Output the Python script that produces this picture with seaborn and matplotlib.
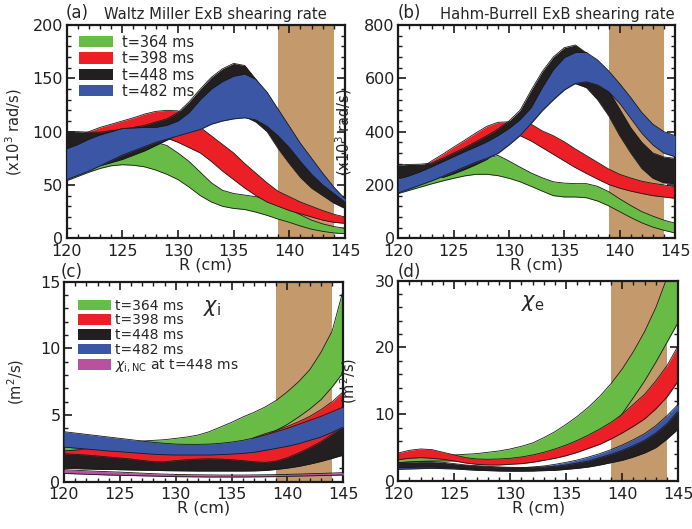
import numpy as np
import pandas as pd
import matplotlib
matplotlib.use("Agg")
import matplotlib.pyplot as plt
import seaborn as sns
from matplotlib.patches import Patch
from matplotlib.ticker import MultipleLocator

# ---------------- data ----------------
R = list(range(120, 146))
labels = ["t=364 ms", "t=398 ms", "t=448 ms", "t=482 ms"]
nc_label = r"$\chi_{\rm i,NC}$ at t=448 ms"

# (a) Waltz-Miller ExB shearing rate (x10^3 rad/s)
a_green_hi = [56, 61, 65, 70, 73, 76, 80, 85, 90, 87, 80, 72, 62, 52, 45, 42, 40.5, 39, 36, 32, 27, 22, 17, 13.5, 11, 9.5]
a_green_lo = [54, 58, 62, 65.5, 68, 69, 68.5, 67, 64, 60, 55, 48, 40, 34, 30, 28, 27, 24.5, 21.5, 18, 15, 11.5, 8.5, 6.5, 5, 4.3]
a_red_hi = [94, 97, 100, 104, 107, 110, 113, 116.5, 119, 120, 119.5, 113, 104, 96, 88, 80, 70, 61, 52, 44, 39, 34, 30, 26, 22.5, 20]
a_red_lo = [80, 82, 85, 88, 90, 92, 93.5, 94.5, 95, 94, 90, 85, 80, 72, 63, 55, 47, 40, 34, 30, 26, 23, 20, 17, 15, 14]
a_black_hi = [100, 100, 99.5, 99.5, 101, 102, 104, 106, 109, 112, 118, 128, 140, 151, 159, 164, 162, 149, 134, 117, 101, 86, 72, 59, 47, 35]
a_black_lo = [68, 66, 66, 68, 71, 74, 78, 82, 87, 92, 97, 101, 105, 110, 113, 115, 114, 109, 100, 84, 70, 57, 47, 40, 33, 28]
a_blue_hi = [84, 88, 93, 97, 100, 103, 103.5, 104, 104, 106, 110, 118, 130, 140, 147, 152, 154, 149, 137, 121, 105, 89, 75, 61, 48, 37]
a_blue_lo = [55, 59, 63, 68, 73, 78, 82, 86, 90, 93, 96, 99, 102, 107, 110, 112, 113, 111, 105, 96, 85, 72, 60, 50, 42, 34]

# (b) Hahm-Burrell ExB shearing rate (x10^3 rad/s)
b_green_hi = [175, 190, 205, 220, 235, 250, 265, 282, 300, 311, 290, 267, 245, 227, 212, 207, 205, 205, 195, 175, 148, 123, 100, 83, 68, 57]
b_green_lo = [168, 180, 192, 204, 215, 225, 234, 240, 240, 235, 225, 212, 195, 177, 160, 155, 155, 152, 140, 122, 100, 78, 58, 42, 30, 20]
b_red_hi = [205, 228, 262, 290, 315, 342, 368, 395, 420, 435, 437, 432, 428, 403, 385, 362, 335, 310, 285, 260, 240, 226, 214, 206, 200, 193]
b_red_lo = [190, 200, 215, 230, 250, 270, 290, 310, 330, 350, 370, 385, 365, 340, 315, 290, 265, 243, 222, 202, 188, 177, 168, 160, 155, 150]
b_black_hi = [275, 277, 278, 282, 300, 320, 340, 362, 385, 410, 440, 480, 555, 625, 680, 715, 725, 695, 640, 555, 485, 415, 360, 320, 305, 300]
b_black_lo = [225, 228, 232, 235, 228, 242, 258, 276, 296, 325, 360, 400, 450, 500, 540, 570, 580, 565, 520, 460, 385, 320, 262, 225, 208, 205]
b_blue_hi = [222, 235, 250, 268, 287, 306, 325, 343, 362, 385, 412, 445, 490, 565, 632, 678, 697, 697, 669, 628, 580, 528, 472, 428, 400, 385]
b_blue_lo = [170, 185, 200, 215, 232, 250, 268, 285, 300, 318, 350, 385, 430, 478, 519, 556, 581, 587, 575, 550, 506, 450, 394, 350, 319, 306]

# (c) chi_i (m^2/s)
c_green_hi = [2.6, 2.6, 2.65, 2.7, 2.8, 2.9, 3.0, 3.05, 3.1, 3.15, 3.25, 3.35, 3.5, 3.75, 4.1, 4.45, 4.85, 5.2, 5.6, 6.1, 6.75, 7.5, 8.4, 9.7, 11.3, 14.4]
c_green_lo = [2.3, 2.32, 2.35, 2.4, 2.45, 2.5, 2.5, 2.5, 2.45, 2.4, 2.4, 2.4, 2.4, 2.45, 2.5, 2.6, 2.8, 3.1, 3.45, 3.85, 4.3, 4.85, 5.45, 6.15, 7.1, 8.2]
c_red_hi = [2.3, 2.38, 2.45, 2.42, 2.35, 2.3, 2.25, 2.2, 2.15, 2.1, 2.1, 2.1, 2.1, 2.1, 2.15, 2.3, 2.6, 3.3, 3.6, 3.85, 4.15, 4.5, 4.9, 5.4, 6.0, 6.75]
c_red_lo = [1.0, 0.98, 0.95, 0.93, 0.92, 0.91, 0.95, 1.0, 1.05, 1.05, 1.05, 1.05, 1.05, 1.05, 1.05, 1.05, 1.05, 1.1, 1.15, 1.3, 1.5, 1.8, 2.2, 2.7, 3.2, 3.8]
c_black_hi = [2.1, 2.05, 2.0, 1.93, 1.85, 1.78, 1.7, 1.6, 1.5, 1.5, 1.58, 1.65, 1.7, 1.72, 1.7, 1.65, 1.58, 1.5, 1.45, 1.55, 1.8, 2.15, 2.55, 3.0, 3.55, 4.2]
c_black_lo = [1.1, 1.05, 1.0, 0.96, 0.93, 0.9, 0.88, 0.86, 0.85, 0.83, 0.82, 0.81, 0.8, 0.8, 0.8, 0.8, 0.8, 0.81, 0.84, 0.92, 1.02, 1.15, 1.32, 1.52, 1.75, 2.0]
c_blue_hi = [3.75, 3.65, 3.55, 3.45, 3.35, 3.25, 3.15, 3.05, 2.95, 2.88, 2.82, 2.8, 2.8, 2.82, 2.88, 2.97, 3.1, 3.28, 3.5, 3.75, 4.0, 4.3, 4.6, 4.9, 5.25, 5.6]
c_blue_lo = [2.6, 2.52, 2.45, 2.38, 2.3, 2.25, 2.18, 2.12, 2.06, 2.02, 2.0, 2.0, 2.0, 2.0, 2.03, 2.07, 2.12, 2.2, 2.35, 2.5, 2.65, 2.85, 3.1, 3.35, 3.7, 4.1]
c_nc_hi = [0.9, 0.86, 0.82, 0.78, 0.75, 0.72, 0.68, 0.64, 0.6, 0.57, 0.55, 0.53, 0.52, 0.51, 0.5, 0.5, 0.5, 0.51, 0.52, 0.53, 0.55, 0.57, 0.6, 0.62, 0.65, 0.68]
c_nc_lo = [0.62, 0.59, 0.56, 0.53, 0.5, 0.48, 0.46, 0.44, 0.42, 0.4, 0.38, 0.37, 0.36, 0.35, 0.35, 0.35, 0.35, 0.36, 0.37, 0.38, 0.4, 0.42, 0.44, 0.46, 0.48, 0.5]

# (d) chi_e (m^2/s)
d_green_hi = [3.3, 3.5, 3.7, 3.8, 3.85, 3.9, 4.0, 4.1, 4.3, 4.5, 4.8, 5.2, 5.7, 6.5, 7.4, 8.5, 9.7, 11.1, 12.7, 14.6, 16.8, 19.4, 22.4, 26.0, 30.5, 35.0]
d_green_lo = [2.75, 2.85, 2.95, 3.0, 3.0, 3.0, 3.0, 2.9, 2.85, 2.9, 3.0, 3.1, 3.4, 3.7, 4.2, 4.7, 5.3, 6.0, 6.9, 8.0, 10.1, 12.5, 15.0, 17.8, 20.8, 23.8]
d_red_hi = [4.2, 4.6, 4.8, 4.7, 4.3, 3.9, 3.5, 3.3, 3.25, 3.3, 3.4, 3.6, 3.9, 4.3, 4.8, 5.4, 6.1, 6.9, 7.8, 8.8, 10.0, 11.5, 13.0, 15.0, 17.3, 20.3]
d_red_lo = [3.2, 3.4, 3.5, 3.4, 3.25, 3.0, 2.7, 2.5, 2.4, 2.4, 2.5, 2.6, 2.8, 3.1, 3.4, 3.8, 4.3, 4.9, 5.5, 6.3, 7.2, 8.2, 9.3, 10.8, 12.6, 15.0]
d_black_hi = [2.75, 2.85, 2.9, 2.9, 2.8, 2.6, 2.4, 2.3, 2.2, 2.1, 2.05, 2.02, 2.05, 2.1, 2.2, 2.4, 2.7, 3.0, 3.5, 4.0, 4.6, 5.3, 6.1, 7.2, 8.6, 10.5]
d_black_lo = [2.0, 2.05, 2.1, 2.1, 2.05, 1.95, 1.85, 1.7, 1.6, 1.55, 1.5, 1.5, 1.5, 1.55, 1.6, 1.75, 1.9, 2.1, 2.4, 2.75, 3.1, 3.6, 4.2, 5.0, 6.3, 7.8]
d_blue_hi = [2.5, 2.6, 2.6, 2.6, 2.5, 2.4, 2.3, 2.2, 2.1, 2.05, 2.0, 2.0, 2.1, 2.25, 2.5, 2.8, 3.15, 3.6, 4.1, 4.7, 5.4, 6.2, 7.1, 8.3, 9.8, 11.5]
d_blue_lo = [1.75, 1.8, 1.85, 1.9, 1.85, 1.8, 1.7, 1.6, 1.55, 1.5, 1.5, 1.5, 1.55, 1.6, 1.7, 1.85, 2.0, 2.2, 2.5, 2.9, 3.3, 3.8, 4.5, 5.3, 6.6, 8.0]

edge_region = (139, 144)

# ---------------- style ----------------
GREEN = "#68bc45"
RED = "#ec1f26"
BLACK = "#231f20"
BLUE = "#3a56a5"
BROWN = "#c49a6c"
MAGENTA = "#b8519f"

sns.set_theme(style="ticks")
plt.rcParams["font.family"] = ["DejaVu Sans"]
plt.rcParams["mathtext.fontset"] = "dejavusans"

fig = plt.figure(figsize=(6.92, 5.29), dpi=100)
W, H = 692.0, 529.0


def add_ax(l, t, r, b):
    return fig.add_axes([l / W, 1 - b / H, (r - l) / W, (b - t) / H])


ax_a = add_ax(66.7, 25, 345, 238.3)
ax_b = add_ax(398.3, 25, 675, 238.3)
ax_c = add_ax(64, 281.7, 343.3, 481.7)
ax_d = add_ax(398.3, 280.7, 678.3, 481)


def band(ax, hi, lo, color, z):
    df = pd.DataFrame({"R": R, "hi": hi, "lo": lo})
    ax.fill_between(df["R"], df["lo"], df["hi"], color=color, lw=0, zorder=z)
    sns.lineplot(data=df, x="R", y="hi", ax=ax, color="k", lw=0.6, zorder=z + 0.1)
    sns.lineplot(data=df, x="R", y="lo", ax=ax, color="k", lw=0.6, zorder=z + 0.1)


def style(ax, ymax, ymaj, ymin):
    ax.axvspan(edge_region[0], edge_region[1], color=BROWN, lw=0, zorder=0.5)
    ax.set_xlim(120, 145)
    ax.set_ylim(0, ymax)
    ax.xaxis.set_major_locator(MultipleLocator(5))
    ax.xaxis.set_minor_locator(MultipleLocator(1))
    ax.yaxis.set_major_locator(MultipleLocator(ymaj))
    ax.yaxis.set_minor_locator(MultipleLocator(ymin))
    ax.tick_params(which="both", direction="in", top=True, right=True,
                   color="k", labelcolor="#231f20", labelsize=11.5)
    ax.tick_params(axis="x", pad=4)
    ax.tick_params(axis="y", pad=2.5)
    ax.tick_params(which="major", length=6, width=1.2)
    ax.tick_params(which="minor", length=3, width=1.0)
    for s in ax.spines.values():
        s.set_linewidth(1.6)
        s.set_color("k")
    ax.set_xlabel("R (cm)", fontsize=11.5, labelpad=-1)
    ax.set_ylabel("")


# (a)
band(ax_a, a_green_hi, a_green_lo, GREEN, 1)
band(ax_a, a_red_hi, a_red_lo, RED, 2)
band(ax_a, a_black_hi, a_black_lo, BLACK, 3)
band(ax_a, a_blue_hi, a_blue_lo, BLUE, 4)
style(ax_a, 200, 50, 10)

# (b)
band(ax_b, b_green_hi, b_green_lo, GREEN, 1)
band(ax_b, b_red_hi, b_red_lo, RED, 2)
band(ax_b, b_black_hi, b_black_lo, BLACK, 3)
band(ax_b, b_blue_hi, b_blue_lo, BLUE, 4)
style(ax_b, 800, 200, 40)

# (c)
band(ax_c, c_green_hi, c_green_lo, GREEN, 1)
band(ax_c, c_red_hi, c_red_lo, RED, 2)
band(ax_c, c_black_hi, c_black_lo, BLACK, 3)
band(ax_c, c_blue_hi, c_blue_lo, BLUE, 4)
band(ax_c, c_nc_hi, c_nc_lo, MAGENTA, 5)
style(ax_c, 15, 5, 1)

# (d)
band(ax_d, d_green_hi, d_green_lo, GREEN, 1)
band(ax_d, d_red_hi, d_red_lo, RED, 2)
band(ax_d, d_blue_hi, d_blue_lo, BLUE, 3)
band(ax_d, d_black_hi, d_black_lo, BLACK, 4)
style(ax_d, 30, 10, 2)

# y labels
for ax, txt, x in [(ax_a, r"(x10$^3$ rad/s)", -0.155), (ax_b, r"(x10$^3$ rad/s)", -0.16),
                   (ax_c, r"(m$^2$/s)", -0.135), (ax_d, r"(m$^2$/s)", -0.14)]:
    ax.set_ylabel(txt, fontsize=10.5)
    ax.yaxis.set_label_coords(x, 0.5)

# legends
colors = [GREEN, RED, BLACK, BLUE]
hand = [Patch(facecolor=c, edgecolor="none") for c in colors]
ax_a.legend(hand, labels, loc="upper left", bbox_to_anchor=(0.045, 0.955), frameon=False,
            fontsize=10.5, handlelength=2.3, handleheight=0.8, labelspacing=0.1,
            handletextpad=0.6, borderaxespad=0, borderpad=0)
ax_c.legend(hand + [Patch(facecolor=MAGENTA, edgecolor="none")], labels + [nc_label],
            loc="upper left", bbox_to_anchor=(0.05, 0.915), frameon=False,
            fontsize=10, handlelength=2.4, handleheight=0.8, labelspacing=0.05,
            handletextpad=0.3, borderaxespad=0, borderpad=0)

# panel texts
ax_c.text(0.53, 0.87, r"$\chi_{\rm i}$", transform=ax_c.transAxes, fontsize=15,
          ha="center", va="center")
ax_d.text(0.48, 0.89, r"$\chi_{\rm e}$", transform=ax_d.transAxes, fontsize=15,
          ha="center", va="center")

fig.text(66 / W, 1 - 13 / H, "(a)", fontsize=12, va="center", ha="left")
fig.text(104 / W, 1 - 14 / H, "Waltz Miller ExB shearing rate", fontsize=10.6, va="center", ha="left")
fig.text(398 / W, 1 - 13 / H, "(b)", fontsize=12, va="center", ha="left")
fig.text(440 / W, 1 - 14 / H, "Hahm-Burrell ExB shearing rate", fontsize=10.6, va="center", ha="left")
fig.text(61 / W, 1 - 272 / H, "(c)", fontsize=12, va="center", ha="left")
fig.text(398 / W, 1 - 272 / H, "(d)", fontsize=12, va="center", ha="left")

fig.savefig("out.png", dpi=100)
